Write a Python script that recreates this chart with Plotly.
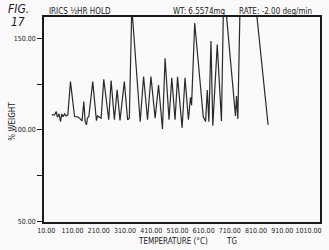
import plotly.graph_objects as go

# ---- data ----
temperature_c = [31, 41.5, 48, 52, 58.5, 64, 69, 74, 79.5, 85, 92, 102, 117.5, 129, 136.5, 146,
                 153, 158, 163, 167, 172, 187, 196, 201, 205, 219, 229, 248, 257, 269.5, 280,
                 291, 307.5, 320, 326.5, 336, 368, 381, 396, 409, 425, 438, 453, 463, 478,
                 488.5, 501, 510.5, 528, 539, 552, 560, 564, 576, 608.5, 617.5, 624, 630,
                 638, 645, 662, 678, 687, 731.5, 735.5, 740.5, 758.5, 856]
weight_pct = [108.2, 108.2, 110.0, 106.9, 108.7, 104.5, 108.7, 107.1, 108.7, 107.6, 108.2, 126.3,
              107.3, 107.1, 106.4, 104.9, 115.4, 104.5, 102.7, 106.5, 107.3, 126.3, 112.7, 105.0,
              107.6, 106.4, 127.6, 105.5, 126.9, 105.5, 121.8, 105.1, 126.3, 105.5, 106.4, 167.0,
              104.4, 129.1, 105.5, 129.1, 106.4, 124.5, 100.5, 139.1, 105.5, 128.4, 105.5, 128.9,
              101.1, 128.4, 105.5, 117.8, 113.5, 158.3, 107.3, 104.5, 121.8, 104.5, 148.5, 102.2,
              146.6, 104.9, 178.6, 107.6, 118.5, 106.0, 238.0, 102.7]

x_tick_vals = [10, 110, 210, 310, 410, 510, 610, 710, 810, 910, 1010]
x_tick_text = ["10.00", "110.00", "210.00", "310.00", "410.00", "510.00",
               "610.00", "710.00", "810.00", "910.00", "1010.00"]
y_tick_vals = [50, 75, 100, 125, 150]
y_tick_text = ["50.00", "", "100.00", "", "150.00"]

W, H = 329, 250
ML, MR, MT, MB = 44, 7, 17, 28
PW, PH = W - ML - MR, H - MT - MB
FONT = "Liberation Sans Narrow, DejaVu Sans Condensed, Arial Narrow, sans-serif"
INK = "#1a1a1a"


def px(x):
    return (x - ML) / PW


def py(y):
    return (H - MB - y) / PH


fig = go.Figure()
fig.add_trace(go.Scatter(x=temperature_c, y=weight_pct, mode="lines",
                         line=dict(color="#2a2a2a", width=1.2), showlegend=False))

fig.update_layout(
    width=W, height=H,
    margin=dict(l=ML, r=MR, t=MT, b=MB),
    paper_bgcolor="#fcf9fc", plot_bgcolor="#fcf9fc",
    font=dict(family=FONT, color=INK, size=8),
    xaxis=dict(range=[1, 1054], tickvals=x_tick_vals, ticktext=x_tick_text,
               tickangle=0, showgrid=False, zeroline=False, showline=True, mirror=True,
               linecolor=INK, linewidth=1.6, ticks="", tickfont=dict(size=7, family=FONT),
               ticklabelstandoff=1),
    yaxis=dict(range=[49.7, 161.6], tickvals=y_tick_vals, ticktext=y_tick_text,
               showgrid=False, zeroline=False, showline=True, mirror=True,
               linecolor=INK, linewidth=1.6, ticks="outside", ticklen=5, tickwidth=1,
               tickcolor=INK, tickfont=dict(size=7, family=FONT)),
)

ann = [
    dict(text="<i>FIG.</i>", x=px(18), y=py(9), font=dict(size=12)),
    dict(text="<i>17</i>", x=px(18), y=py(22), font=dict(size=12)),
    dict(text="IRICS ½HR HOLD", x=px(80), y=py(12), font=dict(size=8)),
    dict(text="WT: 6.5574mg", x=px(200), y=py(12), font=dict(size=8)),
    dict(text="RATE: -2.00 deg/min", x=px(277), y=py(12), font=dict(size=8)),
    dict(text="% WEIGHT", x=px(11.5), y=py(121), textangle=-90, font=dict(size=8)),
    dict(text="TEMPERATURE (°C)", x=px(174), y=py(241.5), font=dict(size=8)),
    dict(text="TG", x=px(233), y=py(241.5), font=dict(size=8)),
]
for a in ann:
    fig.add_annotation(xref="paper", yref="paper", showarrow=False,
                       xanchor="center", yanchor="middle", **a)

fig.write_html("out.html")
